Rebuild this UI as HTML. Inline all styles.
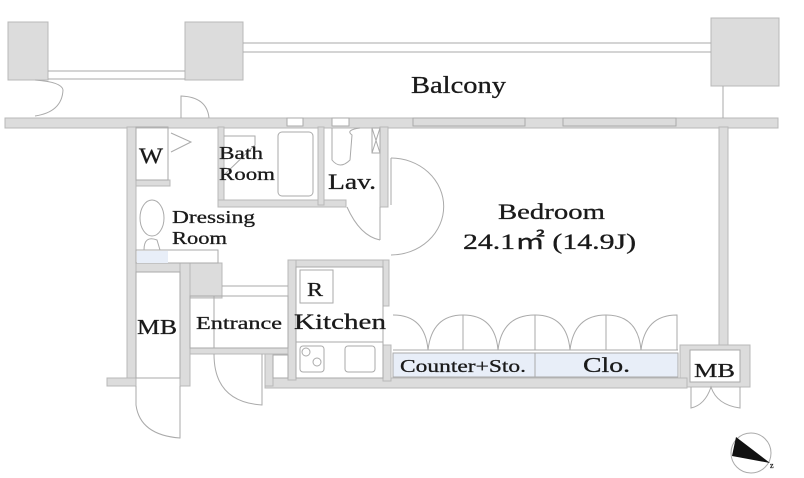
<!DOCTYPE html>
<html><head><meta charset="utf-8"><style>
html,body{margin:0;padding:0;background:#fff;}
svg{display:block;}
</style></head><body>
<svg width="804" height="478" viewBox="0 0 804 478" xmlns="http://www.w3.org/2000/svg">
<g fill="#dcdcdc" stroke="#b8b8b8" stroke-width="1">
 <rect x="8" y="22" width="40" height="58"/>
 <rect x="185" y="22" width="58" height="58"/>
 <rect x="711" y="18" width="68" height="68"/>
 <rect x="5" y="118" width="773" height="10"/>
 <rect x="127" y="127" width="9" height="258"/>
 <rect x="107" y="378" width="29" height="8"/>
 <rect x="719" y="127" width="9" height="220"/>
 <rect x="680" y="345" width="70" height="42"/>
 <rect x="265" y="378" width="422" height="10"/>
 <rect x="265" y="348" width="8" height="38"/>
 <rect x="136" y="180" width="34" height="6"/>
 <rect x="218" y="127" width="6" height="80"/>
 <rect x="218" y="200" width="128" height="7"/>
 <rect x="318" y="127" width="6" height="78"/>
 <rect x="380" y="127" width="8" height="80"/>
 <rect x="136" y="263" width="86" height="9"/>
 <rect x="180" y="263" width="42" height="35"/>
 <rect x="180" y="263" width="10" height="123"/>
 <rect x="190" y="348" width="100" height="6"/>
 <rect x="288" y="260" width="100" height="7"/>
 <rect x="288" y="260" width="8" height="120"/>
 <rect x="383" y="260" width="6" height="46"/>
 <rect x="383" y="345" width="8" height="36"/>
</g>
<g fill="none" stroke="#aaa" stroke-width="1">
 <line x1="48" y1="71" x2="185" y2="71"/><line x1="48" y1="79" x2="185" y2="79"/>
 <line x1="243" y1="43" x2="711" y2="43"/><line x1="243" y1="52" x2="711" y2="52"/>
 <line x1="723" y1="86" x2="723" y2="118"/>
 <path d="M35 80 Q62 82 63 90 Q62 112 35 116"/>
 <path d="M181 118 L181 96 Q207 97 209 118"/>
 <rect x="413" y="118" width="112" height="8"/><rect x="563" y="118" width="113" height="8"/>
 <rect x="287" y="118" width="16" height="8" fill="#fff"/><rect x="332" y="118" width="17" height="8" fill="#fff"/>
 <rect x="136" y="127" width="32" height="53"/>
 <path d="M171 133 L191 142 L171 152"/>
 <rect x="278" y="132" width="35" height="64" rx="4"/>
 <path d="M224 136 L255 136 L255 145 L224 175"/>
 <path d="M332 128 L332 160 Q340 170 350 160 L352 135 Q345 130 360 128"/>
 <rect x="372" y="128" width="8" height="25"/>
 <path d="M372 128 L380 153 M380 128 L372 153"/>
 <path d="M347 207 Q360 236 380 240"/>
 <line x1="380" y1="207" x2="380" y2="240"/>
 <path d="M391 158 A50 46 0 0 1 391 255"/>
 <line x1="391" y1="158" x2="391" y2="205"/>
 <ellipse cx="152" cy="218" rx="12" ry="18"/>
 <path d="M144 250 Q144 235 157 240 L160 250"/>
 <rect x="136" y="250" width="82" height="13"/>
 <rect x="136" y="272" width="44" height="106"/>
 <path d="M136 386 L136 405 Q140 435 180 438 L180 386"/>
 <rect x="190" y="296" width="98" height="52"/>
 <line x1="214" y1="296" x2="214" y2="348"/>
 <line x1="222" y1="286" x2="288" y2="286"/>
 <path d="M214 354 Q214 402 262 405 L262 354"/>
 <rect x="273" y="355" width="15" height="23"/>
 <rect x="296" y="267" width="87" height="111"/>
 <rect x="300" y="270" width="33" height="33"/>
 <line x1="296" y1="342" x2="383" y2="342"/>
 <rect x="300" y="346" width="24" height="26" rx="3"/>
 <circle cx="306" cy="352" r="4"/><circle cx="317" cy="362" r="4"/>
 <rect x="345" y="346" width="30" height="26" rx="3"/>
 <path d="M393 315 Q425 315 428 350 Q432 315 463 315 Q495 315 498 350 Q502 315 535 315 Q567 315 570 350 Q574 315 606 315 Q638 315 641 350 Q645 315 677 315 L677 350"/>
 <line x1="463" y1="315" x2="463" y2="350"/><line x1="535" y1="315" x2="535" y2="350"/><line x1="606" y1="315" x2="606" y2="350"/>
 <line x1="393" y1="350" x2="678" y2="350"/>
 <rect x="690" y="350" width="50" height="32" fill="#fff"/>
 <path d="M691 387 L691 408 Q705 405 711 387 Q717 405 740 408 L740 387"/>
 <circle cx="751" cy="453" r="20"/>
</g>
<rect x="393" y="353" width="285" height="24" fill="#e8eef8" stroke="#aaa"/>
<line x1="535" y1="353" x2="535" y2="377" stroke="#aaa"/>
<rect x="137" y="251" width="31" height="12" fill="#e8eef8"/>
<polygon points="736,437 732,456 770,463" fill="#111"/>
<g font-family="Liberation Serif, DejaVu Serif, serif" fill="#1a1a1a" stroke="#1a1a1a" stroke-width="0.3" lengthAdjust="spacingAndGlyphs">
<text x="770" y="468" font-size="8">z</text>
<text x="411" y="93" font-size="24" textLength="95" lengthAdjust="spacingAndGlyphs">Balcony</text>
<text x="139" y="163" font-size="22" textLength="24" lengthAdjust="spacingAndGlyphs">W</text>
<text x="219" y="159" font-size="18" textLength="44" lengthAdjust="spacingAndGlyphs">Bath</text>
<text x="219" y="180" font-size="18" textLength="56" lengthAdjust="spacingAndGlyphs">Room</text>
<text x="328" y="189" font-size="22" textLength="48" lengthAdjust="spacingAndGlyphs">Lav.</text>
<text x="172" y="223" font-size="18" textLength="83" lengthAdjust="spacingAndGlyphs">Dressing</text>
<text x="172" y="244" font-size="18" textLength="55" lengthAdjust="spacingAndGlyphs">Room</text>
<text x="498" y="219" font-size="22" textLength="107" lengthAdjust="spacingAndGlyphs">Bedroom</text>
<text x="463" y="249" font-size="22" textLength="173" lengthAdjust="spacingAndGlyphs">24.1㎡ (14.9J)</text>
<text x="307" y="296" font-size="20" textLength="16" lengthAdjust="spacingAndGlyphs">R</text>
<text x="294" y="329" font-size="22" textLength="92" lengthAdjust="spacingAndGlyphs">Kitchen</text>
<text x="196" y="329" font-size="18" textLength="86" lengthAdjust="spacingAndGlyphs">Entrance</text>
<text x="137" y="334" font-size="21" textLength="40" lengthAdjust="spacingAndGlyphs">MB</text>
<text x="400" y="372" font-size="18" textLength="126" lengthAdjust="spacingAndGlyphs">Counter+Sto.</text>
<text x="583" y="372" font-size="21" textLength="47" lengthAdjust="spacingAndGlyphs">Clo.</text>
<text x="694" y="377" font-size="20" textLength="41" lengthAdjust="spacingAndGlyphs">MB</text>
</g>
</svg>
</body></html>
